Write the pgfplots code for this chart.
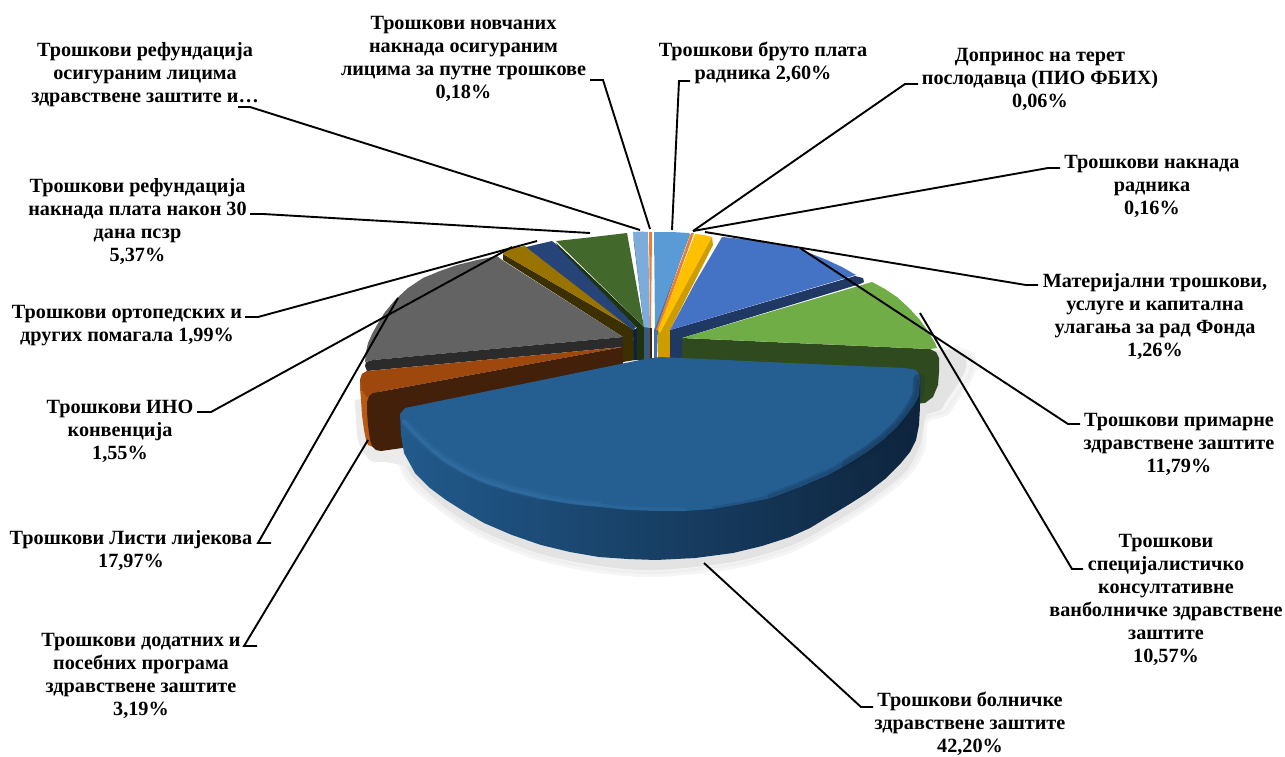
\documentclass[border=0pt]{standalone}
\usepackage{fontspec}
\setmainfont{Liberation Serif}
\usepackage{pgfplots}
\pgfplotsset{compat=1.18}
\definecolor{cBlueTop}{HTML}{255E91}
\definecolor{cBlueL}{HTML}{215A8C}
\definecolor{cBlueR}{HTML}{0E243D}
\definecolor{cBlueHi}{HTML}{3F7FB6}
\definecolor{cGreenTop}{HTML}{70AD47}
\definecolor{cGreenSide}{HTML}{2F4A1E}
\definecolor{cPrimTop}{HTML}{4472C4}
\definecolor{cPrimSide}{HTML}{203864}
\definecolor{cYellow}{HTML}{FFC000}
\definecolor{cYellowSide}{HTML}{CC9C00}
\definecolor{cOrange}{HTML}{ED7D31}
\definecolor{cSky}{HTML}{5B9BD5}
\definecolor{cSkySide}{HTML}{41719C}
\definecolor{cPale}{HTML}{7CACDB}
\definecolor{cPaleSide}{HTML}{3A5A78}
\definecolor{cForest}{HTML}{43682B}
\definecolor{cForestSide}{HTML}{1E3312}
\definecolor{cNavy}{HTML}{264478}
\definecolor{cNavySide}{HTML}{10203E}
\definecolor{cGold}{HTML}{997300}
\definecolor{cGoldSide}{HTML}{3D3000}
\definecolor{cGray}{HTML}{636363}
\definecolor{cGraySide}{HTML}{2B2B2B}
\definecolor{cRust}{HTML}{9E480E}
\definecolor{cRustSide}{HTML}{42200A}
\definecolor{cRustHi}{HTML}{B85A12}
\pgfplotsset{
  wedge/.style={draw=none,mark=none,fill=#1,forget plot},
  leader/.style={draw=black,line width=1.9pt,mark=none,forget plot,line join=miter},
  rim/.style={mark=none,forget plot,line cap=round,line join=round,draw=#1},
}
\tikzset{lab/.style={align=center,font=\fontsize{20.2}{23}\selectfont\bfseries,inner sep=0pt}}
\begin{document}
\begin{tikzpicture}
\begin{axis}[
  scale only axis,width=1285pt,height=756pt,
  xmin=0,xmax=1285,ymin=0,ymax=756,y dir=reverse,
  hide axis,clip=false,
]
% soft ground shadow below the pie
\addplot[wedge=black!9,draw=black!9,line width=6pt,opacity=.45,smooth,tension=.5] coordinates {(395,440)(408,478)(446,512)(484,536)(541,558)(599,570)(656,574)(733,566)(790,550)(828,530)(867,506)(905,476)(922,450)(926,420)(950,408)(952,350)(600,400)(395,440)};
\addplot[wedge=black!11,smooth,tension=.5] coordinates {(398,440)(410,474)(446,508)(484,532)(541,554)(599,566)(656,570)(733,562)(790,546)(828,526)(867,502)(905,472)(920,445)(926,416)(944,405)(945,350)(600,400)(398,440)};
\addplot[wedge=black!8,smooth,tension=.5] coordinates {(355,400)(358,440)(370,460)(385,462)(420,462)(420,400)(355,400)};

% back slices: side walls, then top faces
\addplot[wedge=cGoldSide] coordinates {(503,254)(633,329)(635,360)(623,362)(623,337)(503,260)};
\addplot[wedge=cGold] coordinates {(503,254)(507,249)(525,246)(633,329)};
\addplot[wedge=cNavySide] coordinates {(633,330)(637,328)(637,360)(634,360)};
\addplot[wedge=cNavy] coordinates {(526,247)(552,241)(556,244)(636,327)(633,330)};
\addplot[wedge=cForestSide] coordinates {(556,243)(644,327)(644,360)(637,360)(637,328)(558,247)};
\addplot[wedge=cForest] coordinates {(556,241)(575,239)(593,237)(610,235)(627,233)(644,327)};
\addplot[wedge=cPaleSide] coordinates {(633,235)(644,327)(644,360)(650,360)(650,328)};
\addplot[wedge=cPale] coordinates {(633,232)(640,231.5)(648,232)(650,328)(644,327)};
\addplot[wedge=cOrange] coordinates {(649,232)(652,232)(651,328)(650,328)};
\addplot[wedge=cRustSide] coordinates {(650,328)(652,328)(652,360)(650,360)};
\addplot[wedge=cSkySide] coordinates {(689,235)(658,326)(657,360)(654,360)(654,330)};
\addplot[wedge=cSky] coordinates {(654,232)(672,232)(689,233)(690,235)(655,328)};
\addplot[wedge=cOrange] coordinates {(691,233)(694,233)(659,330)(656,330)};
\addplot[wedge=cYellowSide] coordinates {(712,237)(713,245)(670,330)(670,360)(658,360)(658,330)};
\addplot[wedge=cYellow] coordinates {(695,234)(704,235)(712,237)(660,333)(658,330)};

% primary care slice
\addplot[wedge=cPrimSide] coordinates {(670,330)(855,276)(863,278)(864,282)(860,284)(682,338)(682,360)(670,360)};
\addplot[wedge=cPrimTop] coordinates {(670,330)(695,283)(722,237)(753,240)(775,244)(797,248)(812,254)(827,260)(842,267)(856,275)};

% specialist care slice
\addplot[wedge=cGreenSide] coordinates {(682,338)(930,349)(936,352)(939,358)(939,372)(938,385)(933,397)(925,403)(912,404)(900,375)(682,360)};
\addplot[wedge=cGreenTop] coordinates {(682,338)(872,282)(885,289)(897,297)(909,308)(920,320)(928,331)(935,343)(937,348)(930,349)};

% medicines slice
\addplot[wedge=cGray] coordinates {(365,362)(366,352)(368,343)(372,334)(377,325)(385,312)(395,300)(408,288)(423,278)(440,271)(457,265)(477,260)(497,256)(502,260)(623,337)(373,360)};
\addplot[wedge=cGraySide] coordinates {(623,337)(373,360)(366,362)(365,366)(367,371)(623,347)};

% add-on programmes slice
\addplot[wedge=cRustHi] coordinates {(367,371)(362,374)(360,380)(360,388)(361,400)(362,415)(364,430)(366,440)(368,445)(374,447)(380,440)(380,380)};
\addplot[wedge=cRust] coordinates {(367,371)(623,347)(373,393)(367,397)(362,390)(360,380)(362,374)};
\addplot[wedge=cRustSide] coordinates {(623,347)(373,393)(369,396)(367,402)(367,412)(368,425)(370,440)(372,446)(376,450)(381,451)(402,448)(460,420)(623,365)};

% hospital care slice: wall, top face, rim shading
\addplot[draw=none,mark=none,forget plot,left color=cBlueL,right color=cBlueR] coordinates {(400,415)(401,435)(404,453)(415,473)(430,488)(446,500)(465,512)(484,523)(512,535)(541,545)(570,552)(599,557)(628,559)(656,560)(695,558)(733,553)(762,546)(790,537)(810,528)(828,517)(848,505)(867,493)(885,479)(901,463)(910,452)(916,440)(919,425)(920,407)(920,380)(660,400)};
\addplot[wedge=cBlueTop] coordinates {(660,357)(790,363)(905,368)(912,369)(916,370)(919,374)(920,380)(919,395)(914,405)(906,416)(897,427)(883,440)(867,452)(848,464)(828,475)(800,487)(771,498)(742,504)(713,509)(685,511)(656,511)(628,510)(599,507)(570,504)(541,499)(512,492)(484,483)(465,474)(446,463)(432,452)(419,440)(410,431)(402,422)(400,414)(405,408)(640,360)};
% lit bevel on the left and front of the rim
\addplot[rim=cBlueHi,line width=9pt,opacity=.10] coordinates {(406,424)(419,437)(432,449)(446,460)(465,471)(484,480)(512,489)(541,496)};
\addplot[rim=cBlueHi,line width=6pt,opacity=.14] coordinates {(404,422)(419,437)(432,449)(446,460)(465,471)(484,480)(512,489)(541,496)(570,501)(599,504)};
\addplot[rim=cBlueHi,line width=3pt,opacity=.22] coordinates {(403,420)(419,438)(432,450)(446,461)(465,472)(484,481)(512,490)(541,497)(570,502)(599,505)(628,508)(656,509)(685,509)};
% shaded bevel on the right of the rim
\addplot[rim=cBlueR,line width=3pt,opacity=.16] coordinates {(713,508)(742,503)(771,496)(800,485)(828,473)(848,462)(867,450)(883,438)(897,425)(906,414)(913,403)(917,393)(918,380)};
\addplot[rim=cBlueR,line width=7pt,opacity=.16] coordinates {(771,496)(800,485)(828,473)(848,462)(867,450)(883,438)(897,425)(906,414)(913,403)(917,393)(917,378)};
\addplot[rim=cBlueR,line width=12pt,opacity=.18] coordinates {(848,464)(867,452)(883,440)(897,427)(906,416)(913,405)(918,395)(919,380)};

% leader lines
\addplot[leader] coordinates {(690,81)(679,81)(672,230)};
\addplot[leader] coordinates {(918,84)(905,84)(693,231)};
\addplot[leader] coordinates {(1060,168)(1048,168)(693,231)};
\addplot[leader] coordinates {(1038,285)(1026,285)(705,232)};
\addplot[leader] coordinates {(1080,424)(1068,424)(800,248)};
\addplot[leader] coordinates {(1083,569)(1072,569)(920,313)};
\addplot[leader] coordinates {(704,563)(861,707)(873,707)};
\addplot[leader] coordinates {(257,646)(244,646)(368,440)};
\addplot[leader] coordinates {(271,543)(258,543)(398,298)};
\addplot[leader] coordinates {(197,412)(211,412)(512,247)};
\addplot[leader] coordinates {(245,317)(258,317)(537,241)};
\addplot[leader] coordinates {(250,214)(263,214)(590,233)};
\addplot[leader] coordinates {(238,107)(250,107)(640,230)};
\addplot[leader] coordinates {(590,80)(603,80)(650,229)};

% slice labels
\node[lab] at (axis cs:463.5,58.5) {Трошкови новчаних\\накнада осигураним\\лицима за путне трошкове\\0,18\%};
\node[lab] at (axis cs:763,62.5) {Трошкови бруто плата\\радника 2,60\%};
\node[lab] at (axis cs:1040,79.3) {Допринос на терет\\послодавца (ПИО ФБИХ)\\0,06\%};
\node[lab] at (axis cs:1152,186.8) {Трошкови накнада\\радника\\0,16\%};
\node[lab] at (axis cs:1155,317) {Материјални трошкови,\\услуге и капитална\\улагања за рад Фонда\\1,26\%};
\node[lab] at (axis cs:1179,444) {Трошкови примарне\\здравствене заштите\\11,79\%};
\node[lab] at (axis cs:1166,599.7) {Трошкови\\специјалистичко\\консултативне\\ванболничке здравствене\\заштите\\10,57\%};
\node[lab] at (axis cs:970,724) {Трошкови болничке\\здравствене заштите\\42,20\%};
\node[lab] at (axis cs:141,676.3) {Трошкови додатних и\\посебних програма\\здравствене заштите\\3,19\%};
\node[lab] at (axis cs:131,550.3) {Трошкови Листи лијекова\\17,97\%};
\node[lab] at (axis cs:120,431) {Трошкови ИНО\\конвенција\\1,55\%};
\node[lab] at (axis cs:127,325.3) {Трошкови ортопедских и\\других помагала 1,99\%};
\node[lab] at (axis cs:137.5,221.5) {Трошкови рефундација\\накнада плата након 30\\дана псзр\\5,37\%};
\node[lab] at (axis cs:145,74.3) {Трошкови рефундација\\осигураним лицима\\здравствене заштите и…};
\end{axis}
\pgfresetboundingbox
\path[use as bounding box] (0,0) rectangle (1285pt,756pt);
\end{tikzpicture}
\end{document}
